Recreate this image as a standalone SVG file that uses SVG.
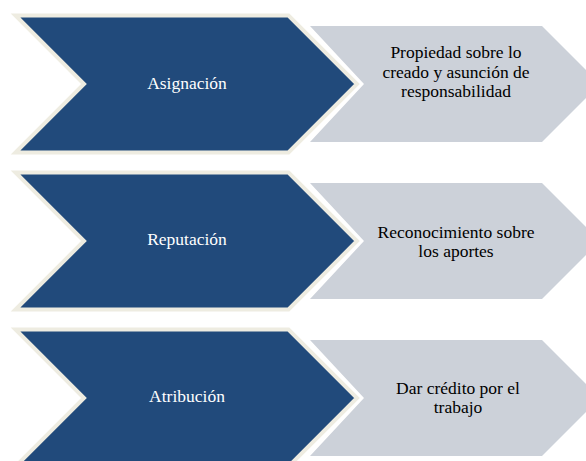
<svg xmlns="http://www.w3.org/2000/svg" width="586" height="461" viewBox="0 0 586 461">
<style>
.dark{fill:#214A7B;stroke:#EEECE1;stroke-width:4;stroke-linejoin:miter;stroke-miterlimit:10}
.light{fill:#CCD1D9;stroke:none}
.lt{font-size:17.5px;fill:#FFFFFF;text-anchor:middle}
.rt{font-size:17.5px;fill:#000000;text-anchor:middle}
</style>
<rect width="586" height="461" fill="#FFFFFF"/>
<g id="connectors"></g>
<g font-family="Liberation Serif, DejaVu Serif, serif">
<g id="row1">
  <g id="detail1">
    <path class="light" d="M310,26 L542,26 L600,84 L542,142 L310,142 L364,84 Z"/>
    <text class="rt" x="456" y="58">Propiedad sobre lo</text>
    <text class="rt" x="456" y="77.5">creado y asunción de</text>
    <text class="rt" x="456" y="97">responsabilidad</text>
  </g>
  <g id="label1">
    <path class="dark" d="M15.5,15.5 L288.5,15.5 L357,84 L288.5,152.5 L15.5,152.5 L84,84 Z"/>
    <text class="lt" x="187" y="89">Asignación</text>
  </g>
</g>
<g id="row2">
  <g id="detail2">
    <path class="light" d="M310,183 L542,183 L600,241 L542,299 L310,299 L364,241 Z"/>
    <text class="rt" x="456" y="238">Reconocimiento sobre</text>
    <text class="rt" x="456" y="257">los aportes</text>
  </g>
  <g id="label2">
    <path class="dark" d="M15.5,172.5 L288.5,172.5 L357,241 L288.5,309.5 L15.5,309.5 L84,241 Z"/>
    <text class="lt" x="187" y="245">Reputación</text>
  </g>
</g>
<g id="row3">
  <g id="detail3">
    <path class="light" d="M310,340 L542,340 L600,398 L542,456 L310,456 L364,398 Z"/>
    <text class="rt" x="458" y="394">Dar crédito por el</text>
    <text class="rt" x="458" y="413">trabajo</text>
  </g>
  <g id="label3">
    <path class="dark" d="M15.5,329.5 L288.5,329.5 L357,398 L288.5,466.5 L15.5,466.5 L84,398 Z"/>
    <text class="lt" x="187" y="402">Atribución</text>
  </g>
</g>
</g>
</svg>
